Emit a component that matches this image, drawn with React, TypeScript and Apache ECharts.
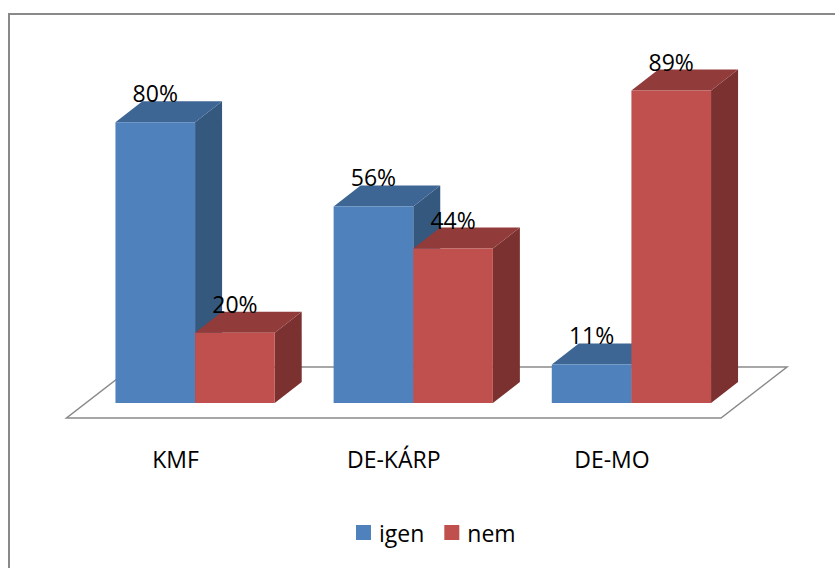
import React, { useEffect, useRef } from "react";
import * as echarts from "echarts";

const categories = ["KMF", "DE-KÁRP", "DE-MO"];
const igenValues = [80, 56, 11];
const nemValues = [20, 44, 89];
const seriesNames = ["igen", "nem"];

const FONT = "'Open Sans', 'Noto Sans', sans-serif";
const DEPTH_X = 27;
const DEPTH_Y = 21;

const COLORS = [
  { front: "#4F81BD", top: "#3D6694", side: "#35587F" },
  { front: "#C0504D", top: "#913C3A", side: "#7A312F" },
];

function makeBarRender(idx: number) {
  const c = COLORS[idx];
  return (params: any, api: any) => {
    const cat = api.value(0);
    const val = api.value(1);
    const base = api.coord([cat, 0]);
    const top = api.coord([cat, val]);
    const band = api.size([1, 0])[0];
    const bw = band * 0.365;
    const x0 = idx === 0 ? base[0] - bw : base[0];
    const x1 = x0 + bw;
    const yb = base[1];
    const yt = top[1];
    const dx = DEPTH_X;
    const dy = DEPTH_Y;
    return {
      type: "group",
      children: [
        {
          type: "polygon",
          shape: { points: [[x1, yt], [x1 + dx, yt - dy], [x1 + dx, yb - dy], [x1, yb]] },
          style: { fill: c.side },
        },
        {
          type: "polygon",
          shape: { points: [[x0, yt], [x1, yt], [x1 + dx, yt - dy], [x0 + dx, yt - dy]] },
          style: { fill: c.top },
        },
        {
          type: "rect",
          shape: { x: x0, y: yt, width: bw, height: yb - yt },
          style: { fill: c.front },
        },
        {
          type: "text",
          z2: 100,
          style: {
            text: val + "%",
            x: (x0 + x1) / 2,
            y: yt - 29,
            align: "center",
            verticalAlign: "middle",
            fontSize: 23,
            fontFamily: FONT,
            fill: "#000",
          },
        },
      ],
    };
  };
}

function floorRender(params: any, api: any) {
  const cs = params.coordSys;
  const left = cs.x;
  const right = cs.x + cs.width;
  const bottom = cs.y + cs.height;
  const fx = -19.5, fy = 15, bx = 46.5, by = -36;
  return {
    type: "polygon",
    shape: {
      points: [
        [left + fx, bottom + fy],
        [right + fx, bottom + fy],
        [right + bx, bottom + by],
        [left + bx, bottom + by],
      ],
    },
    style: { fill: "#fff", stroke: "#8A8A8A", lineWidth: 1.5 },
  };
}

export default function App() {
  const ref = useRef<HTMLDivElement>(null);
  useEffect(() => {
    if (!ref.current) return;
    const chart = echarts.init(ref.current, null, { renderer: "svg" });
    chart.setOption({
      animation: false,
      backgroundColor: "#fff",
      grid: { left: 78, right: 94.5, top: 44, bottom: 165 },
      graphic: [
        {
          type: "rect",
          shape: { x: 1, y: 6, width: 1000, height: 1000 },
          style: { fill: "none", stroke: "#898989", lineWidth: 2 },
          silent: true,
        },
      ],
      legend: {
        data: seriesNames,
        icon: "rect",
        itemWidth: 15,
        itemHeight: 15,
        itemGap: 20,
        padding: 0,
        left: 348,
        top: 513,
        textStyle: { fontSize: 23, fontFamily: FONT, color: "#000", padding: [0, 0, 0, 3] },
      },
      xAxis: {
        type: "category",
        data: categories,
        axisLine: { show: false },
        axisTick: { show: false },
        axisLabel: {
          margin: 44,
          fontSize: 23,
          fontFamily: FONT,
          color: "#000",
          padding: [0, 39, 0, 0],
        },
      },
      yAxis: {
        type: "value",
        min: 0,
        max: 100,
        show: false,
      },
      series: [
        {
          type: "custom",
          name: "floor",
          data: [[0, 0]],
          renderItem: floorRender,
          z: 1,
          silent: true,
        },
        {
          type: "custom",
          name: seriesNames[0],
          data: igenValues.map((v, i) => [i, v]),
          encode: { x: 0, y: 1 },
          renderItem: makeBarRender(0),
          itemStyle: { color: COLORS[0].front },
          z: 2,
        },
        {
          type: "custom",
          name: seriesNames[1],
          data: nemValues.map((v, i) => [i, v]),
          encode: { x: 0, y: 1 },
          renderItem: makeBarRender(1),
          itemStyle: { color: COLORS[1].front },
          z: 3,
        },
      ],
    });
    return () => chart.dispose();
  }, []);
  return (
    <div
      ref={ref}
      style={{ position: "fixed", left: 8, top: 8, width: 827, height: 560 }}
    />
  );
}
